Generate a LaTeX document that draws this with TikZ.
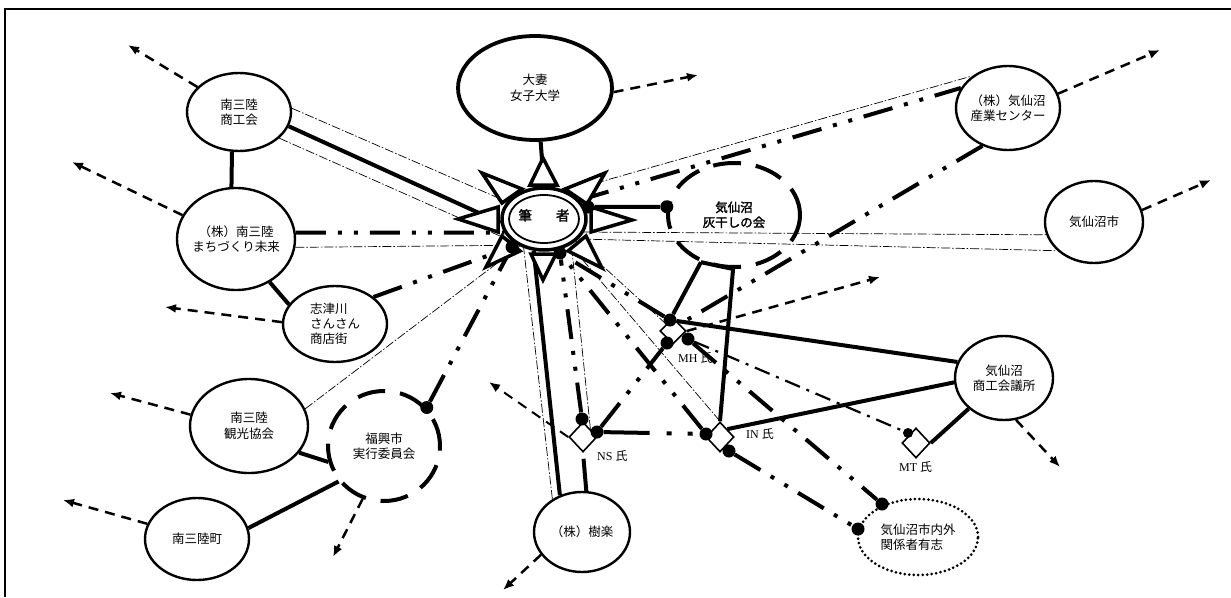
\documentclass[tikz,border=0pt]{standalone}
\usepackage{fontspec}
\setmainfont{Liberation Serif}
\newfontfamily\jp{Noto Sans CJK JP}
\newfontfamily\jpb[FakeBold=2]{Noto Sans CJK JP}
\usetikzlibrary{shapes.geometric,arrows.meta}
\pgfdeclarelayer{background}
\pgfsetlayers{background,main}
\newcommand\ctext[1]{\smash{\makebox[0pt]{\raisebox{-4.5pt}{\begin{tabular}{@{}c@{}}#1\end{tabular}}}}}
\newcommand\ltext[1]{\smash{\makebox[0pt]{\raisebox{-4.5pt}{\begin{tabular}{@{}l@{}}#1\end{tabular}}}}}
\begin{document}
\begin{tikzpicture}[x=1pt,y=-1pt,
  org/.style={ellipse,draw,line width=2.4pt,fill=white,inner sep=0pt,font=\jp\fontsize{12.5}{15}\selectfont},
  dashorg/.style={ellipse,draw,line width=4pt,dash pattern=on 28pt off 15pt,inner sep=0pt,font=\jp\fontsize{12.5}{15}\selectfont},
  dotorg/.style={org,line width=3pt,dash pattern=on 0pt off 4.5pt,line cap=round},
  person/.style={diamond,draw,line width=1.6pt,fill=white,inner sep=0pt,minimum width=28pt,minimum height=30pt},
  jdot/.style={circle,fill=black,inner sep=0pt,minimum size=13pt},
  solidlink/.style={line width=4pt},
  ddlink/.style={line width=4pt,dash pattern=on 30pt off 12pt on 4pt off 12pt on 4pt off 12pt},
  nslink/.style={line width=4pt,dash pattern=on 46pt off 17pt on 5pt off 16pt on 5pt off 30pt},
  mtlink/.style={line width=2.2pt,dash pattern=on 16pt off 7pt on 3pt off 7pt},
  thinlink/.style={line width=0.7pt,dash pattern=on 9pt off 2pt on 1.5pt off 2pt},
  outarrow/.style={line width=2.5pt,dash pattern=on 10pt off 7pt,-{Latex[length=11pt,width=9pt]}},
  startri/.style={draw,line width=3.5pt,fill=white,line join=miter},
  nametag/.style={font=\fontsize{12}{14}\selectfont,anchor=west,inner sep=0pt}
]
\useasboundingbox (0,0) rectangle (1231,597);
\draw[line width=2pt] (5,597) -- (5,9) -- (1231,9);

% star of the hub
\draw[startri] (530,185) -- (557,185) -- (543,158) -- cycle;
\draw[startri] (565,189) -- (587,204) -- (605,173) -- cycle;
\draw[startri] (591,207) -- (591,232) -- (632,220) -- cycle;
\draw[startri] (586,236) -- (568,251) -- (602,268) -- cycle;
\draw[startri] (531,254) -- (556,254) -- (543,280) -- cycle;
\draw[startri] (520,251) -- (502,236) -- (486,267) -- cycle;
\draw[startri] (498,207) -- (498,232) -- (458,219) -- cycle;
\draw[startri] (502,203) -- (522,189) -- (482,173) -- cycle;
\node[ellipse,draw,line width=3.5pt,fill=white,inner sep=0pt,minimum width=84pt,minimum height=62pt,font=\jpb\fontsize{13.5}{15}\selectfont] (hub) at (544,219) {\smash{\makebox[0pt]{\raisebox{-1.5pt}{筆\hspace{24pt}者}}}};
\draw[line width=1.8pt] (hub.center) ellipse [x radius=35, y radius=24];

% organisations
\node[org,minimum width=104pt,minimum height=78pt] (shoko) at (239,112) {\ctext{南三陸\\商工会}};
\node[org,minimum width=118pt,minimum height=102pt] (machi) at (236,239) {\ctext{（株）南三陸\\まちづくり未来}};
\node[org,minimum width=104pt,minimum height=76pt] (shizu) at (335,324) {\ltext{志津川\\さんさん\\商店街}};
\node[org,minimum width=118pt,minimum height=94pt] (kanko) at (249,426) {\ctext{南三陸\\観光協会}};
\node[org,minimum width=104pt,minimum height=82pt] (town) at (197,539) {\ctext{南三陸町}};
\node[dashorg,minimum width=112pt,minimum height=110pt] (fukko) at (384,446) {\ctext{福興市\\実行委員会}};
\node[org,line width=3.8pt,minimum width=154pt,minimum height=104pt] (otsuma) at (535,88) {\ctext{大妻\\女子大学}};
\node[dashorg,minimum width=132pt,minimum height=104pt,font=\jpb\fontsize{12.5}{15}\selectfont] (haiboshi) at (734,215) {\ctext{気仙沼\\灰干しの会}};
\node[org,minimum width=104pt,minimum height=84pt] (sangyo) at (1008,108) {\ctext{（株）気仙沼\\産業センター}};
\node[org,minimum width=98pt,minimum height=82pt] (city) at (1094,222) {\ctext{気仙沼市}};
\node[org,minimum width=98pt,minimum height=84pt] (cci) at (1004,378) {\ctext{気仙沼\\商工会議所}};
\node[dotorg,minimum width=120pt,minimum height=76pt] (yushi) at (918,537) {\ltext{気仙沼市内外\\関係者有志}};
\node[org,minimum width=96pt,minimum height=80pt] (juraku) at (582,532) {\ctext{（株）樹楽}};

% persons
\node[person] (NS) at (583,437) {};
\node[person] (IN) at (720,437) {};
\node[person,minimum width=26pt,minimum height=26pt] (MH) at (673,331) {};
\node[person] (MT) at (916,443) {};
\node[nametag] (NSt) at (597,456) {NS {\jp 氏}};
\node[nametag] (INt) at (746,434) {IN {\jp 氏}};
\node[nametag] (MHt) at (678,358) {MH {\jp 氏}};
\node[nametag] (MTt) at (899,467) {MT {\jp 氏}};

% junction dots
\node[jdot] (hubR) at (588,207) {};
\node[jdot] (haiL) at (haiboshi.173) {};
\node[jdot] (hubLL) at (512,247) {};
\node[jdot] (hubB) at (560,253) {};
\node[jdot] (fd) at (fukko.42) {};
\node[jdot] (nsT) at (582,419) {};
\node[jdot] (nsR) at (597,432) {};
\node[jdot] (inL) at (706,434) {};
\node[jdot] (inB) at (729,451) {};
\node[jdot] (mhT) at (670,320) {};
\node[jdot] (mhB) at (667,343) {};
\node[jdot] (mhR) at (688,339) {};
\node[jdot,minimum size=10pt] (mtL) at (908,433) {};
\node[jdot] (yuT) at (882,504) {};
\node[jdot] (yuL) at (858,529) {};

% free ends of the outgoing arrows
\coordinate (aOtsuma) at (698,75);
\coordinate (aShoko) at (128,45);
\coordinate (aMachi) at (72,162);
\coordinate (aShizu) at (165,307);
\coordinate (aKanko) at (110,393);
\coordinate (aTown) at (63,500);
\coordinate (aFukko) at (333,557);
\coordinate (aJuraku) at (503,590);
\coordinate (aNS) at (489,382);
\coordinate (aMH) at (880,277);
\coordinate (aSangyo) at (1160,50);
\coordinate (aCity) at (1211,180);
\coordinate (aCci) at (1060,467);

\begin{pgfonlayer}{background}
\fill[white] (0,0) rectangle (1231,597);
% outgoing arrows
\draw[outarrow] (otsuma.-3) -- (aOtsuma);
\draw[outarrow] (shoko.149) -- (aShoko);
\draw[outarrow] (machi.156) -- (aMachi);
\draw[outarrow] (shizu.178) -- (aShizu);
\draw[outarrow] (kanko.169) -- (aKanko);
\draw[outarrow] (town.163) -- (aTown);
\draw[outarrow] (fukko.248) -- (aFukko);
\draw[outarrow] (juraku.209) -- (aJuraku);
\draw[outarrow,line width=2pt] (NS.west) -- (aNS);
\draw[outarrow] (MH.east) -- (aMH);
\draw[outarrow] (sangyo.16) -- (aSangyo);
\draw[outarrow] (city.14) -- (aCity);
\draw[outarrow] (cci.-74) -- (aCci);
% left side
\draw[solidlink] (otsuma.-84) -- (hub.north);
\draw[solidlink] (shoko.-16) -- (hub.185);
\draw[thinlink] (shoko.4) -- (hub.155);
\draw[thinlink] (shoko.-33) -- (hub.215);
\draw[solidlink] (shoko.-100) -- (machi.95);
\draw[ddlink] (machi.6) -- (hub.199);
\draw[thinlink] (machi.-8) -- (hub.225);
\draw[solidlink] (machi.-52) -- (shizu.157);
\draw[ddlink] (shizu.35) -- (hubLL);
\draw[thinlink] (kanko.17) -- (hub.228);
\draw[solidlink] (kanko.-28) -- (fukko.196);
\draw[solidlink] (town.12) -- (fukko.218);
\draw[ddlink] (fd) -- (hubLL);
% bottom
\draw[solidlink] (juraku.121) -- (hub.252);
\draw[thinlink] (juraku.132) -- (hub.235);
\draw[solidlink,shorten >=6pt] (juraku.84) -- (NS.south);
\draw[ddlink] (nsT) -- (hubB);
\draw[thinlink] (NS.north east) -- (hub.-43);
\draw[nslink] (nsR) -- (inL);
\draw[ddlink] (nsR) -- (mhB);
\draw[ddlink] (inL) -- (hubB);
\draw[thinlink] (IN.north) -- (hub.-45);
\draw[thinlink] (MH.north west) -- (hub.-35);
\draw[ddlink] (mhT) -- (hubB);
\draw[ddlink] (mhR) -- (yuT);
\draw[ddlink] (inB) -- (yuL);
% right side
\draw[solidlink] (haiboshi.235) -- (haiboshi.269);
\draw[solidlink] (haiboshi.235) -- (mhT);
\draw[solidlink] (haiboshi.269) -- (IN.north);
\draw[solidlink] (hubR) -- (haiL);
\draw[solidlink] (mhT) -- (cci.161);
\draw[solidlink] (IN.north east) -- (cci.185);
\draw[solidlink] (MT.east) -- (cci.221);
\draw[mtlink] (mhR) -- (mtL);
\draw[ddlink] (hub.28) -- (sangyo.157);
\draw[thinlink] (hub.50) -- (sangyo.138);
\draw[thinlink] (hub.-18) -- (city.195);
\draw[thinlink] (hub.-30) -- (city.218);
\draw[ddlink] (sangyo.236) -- (MH.north east);
\end{pgfonlayer}
\end{tikzpicture}
\end{document}
